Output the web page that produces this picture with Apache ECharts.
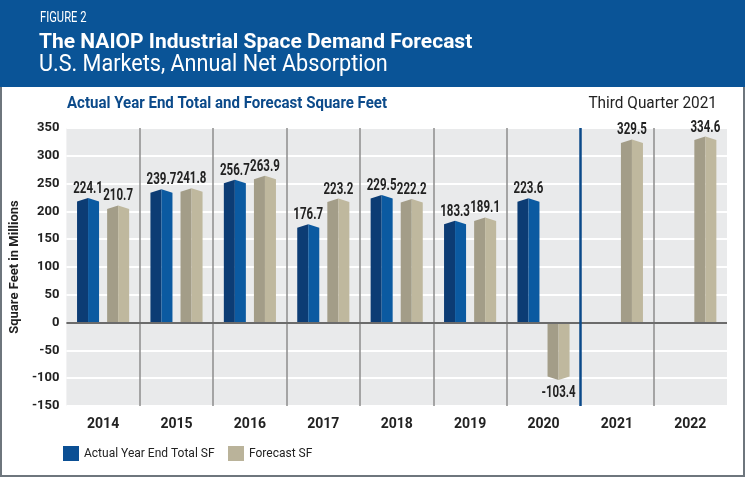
<!DOCTYPE html>
<html>
<head>
<meta charset="utf-8">
<script src="https://cdn.jsdelivr.net/npm/echarts@6/dist/echarts.min.js"></script>
<style>
html,body{margin:0;padding:0;background:#fff;}
#c{width:745px;height:477px;}
</style>
</head>
<body>
<div id="c"></div>
<script>
const categories = ['2014','2015','2016','2017','2018','2019','2020','2021','2022'];
const actualSF = [224.1, 239.7, 256.7, 176.7, 229.5, 183.3, 223.6, null, null];
const forecastSF = [210.7, 241.8, 263.9, 223.2, 222.2, 189.1, -103.4, 329.5, 334.6];
const seriesNames = ['Actual Year End Total SF', 'Forecast SF'];
const separatorsAt = [1, 2, 3, 4, 5, 6, 8];
const forecastStartAt = 7;

const FONT = 'Roboto, "Liberation Sans", sans-serif';

function makeRender(side, dark, light) {
  return function (params, api) {
    const i = api.value(0);
    const v = api.value(1);
    if (v == null || isNaN(v)) return;
    const band = api.size([1, 0])[0];
    const w = band * 0.3;
    const off = side * band * 0.205;
    const base = api.coord([i, 0]);
    const top = api.coord([i, v]);
    const xc = base[0] + off;
    const x0 = xc - w / 2, x1 = xc + w / 2;
    const yb = base[1], yt = top[1];
    const dir = v >= 0 ? 1 : -1;
    const cap = 3.5;
    return {
      type: 'group',
      children: [
        { type: 'polygon', shape: { points: [[x0, yb], [x0, yt + dir * cap], [xc, yt], [xc, yb]] }, style: { fill: dark } },
        { type: 'polygon', shape: { points: [[xc, yb], [xc, yt], [x1, yt + dir * cap], [x1, yb]] }, style: { fill: light } },
        { type: 'text', x: xc, y: v >= 0 ? yt - 1 : yt + 5, scaleX: 0.72,
          style: { text: v.toFixed(1), x: 0, y: 0, align: 'center', verticalAlign: v >= 0 ? 'bottom' : 'top', fontFamily: FONT, fontWeight: 'bold', fontSize: 16, fill: '#222' } }
      ]
    };
  };
}

function headText(str, x, y, size, weight, color, sx, align) {
  return { type: 'text', x: x, y: y, scaleX: sx, z: 10,
    style: { text: str, x: 0, y: 0, align: align || 'left', verticalAlign: 'middle', fontFamily: FONT, fontWeight: weight, fontSize: size, fill: color } };
}

const legendBase = { icon: 'rect', itemWidth: 16, itemHeight: 15, itemGap: 5, padding: 0, top: 446,
  textStyle: { fontFamily: FONT, fontSize: 12, color: '#222' } };

const chart = echarts.init(document.getElementById('c'), null, { renderer: 'canvas' });
chart.setOption({
  backgroundColor: '#fff',
  animation: false,
  graphic: [
    { type: 'rect', shape: { x: 0, y: 0, width: 745, height: 87 }, style: { fill: '#0a5497' }, z: 0 },
    { type: 'rect', shape: { x: 1, y: 1, width: 743, height: 475 }, style: { fill: 'none', stroke: '#6e767d', lineWidth: 2 }, z: -1 },
    headText('FIGURE 2', 40, 18, 14, 'normal', '#fff', 0.8),
    headText('The NAIOP Industrial Space Demand Forecast', 39, 43, 21, 'bold', '#fff', 1.0),
    headText('U.S. Markets, Annual Net Absorption', 39, 65, 24, 'normal', '#fff', 0.9),
    headText('Actual Year End Total and Forecast Square Feet', 67, 104, 16, 'bold', '#0b4a8a', 0.94),
    headText('Third Quarter 2021', 717, 104, 16, 'normal', '#222', 0.96, 'right')
  ],
  legend: [
    Object.assign({ data: [seriesNames[0]], left: 63 }, legendBase),
    Object.assign({ data: [seriesNames[1]], left: 228 }, legendBase)
  ],
  grid: { left: 64, right: 18, top: 128, bottom: 71, show: true, backgroundColor: '#e9eaeb', borderWidth: 0 },
  xAxis: [
    {
      type: 'category', data: categories, boundaryGap: true,
      axisLine: { show: false }, axisTick: { show: false },
      axisLabel: { fontFamily: FONT, fontWeight: 'bold', fontSize: 14, color: '#222', margin: 11 },
      splitLine: { show: false }
    },
    { type: 'value', min: 0, max: 9, show: false }
  ],
  yAxis: {
    type: 'value', min: -150, max: 350, interval: 50,
    name: 'Square Feet in Millions', nameLocation: 'middle', nameGap: 43, nameRotate: 90,
    nameTextStyle: { fontFamily: FONT, fontWeight: 'bold', fontSize: 13, color: '#222' },
    axisLine: { show: false }, axisTick: { show: false },
    axisLabel: { fontFamily: FONT, fontWeight: 'bold', fontSize: 13, color: '#222', margin: 7 },
    splitLine: { lineStyle: { color: '#ffffff', width: 2 } }
  },
  series: [
    {
      name: 'refs', type: 'line', xAxisIndex: 1, data: [],
      markLine: {
        silent: true, symbol: ['none', 'none'], label: { show: false }, animation: false,
        data: separatorsAt.map(v => ({ xAxis: v, lineStyle: { color: '#8c8c8c', width: 1.5, type: 'solid' } })).concat([
          { yAxis: 0, lineStyle: { color: '#6b6b6b', width: 2, type: 'solid' } },
          { xAxis: forecastStartAt, lineStyle: { color: '#0b4a8a', width: 2.5, type: 'solid' } }
        ])
      },
      z: 2
    },
    {
      name: seriesNames[0], type: 'custom', xAxisIndex: 0,
      itemStyle: { color: '#0b4f94' },
      renderItem: makeRender(-1, '#0c3c74', '#0b5aa1'),
      encode: { x: 0, y: 1 },
      data: categories.map((c, i) => [i, actualSF[i]]),
      z: 3
    },
    {
      name: seriesNames[1], type: 'custom', xAxisIndex: 0,
      itemStyle: { color: '#bab39a' },
      renderItem: makeRender(1, '#a39d88', '#bfb89e'),
      encode: { x: 0, y: 1 },
      data: categories.map((c, i) => [i, forecastSF[i]]),
      z: 3
    }
  ]
});
</script>
</body>
</html>
